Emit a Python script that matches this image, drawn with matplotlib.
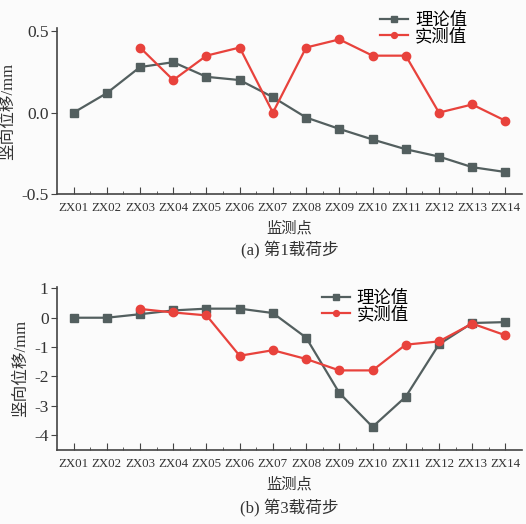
import matplotlib.pyplot as plt
import numpy as np

plt.rcParams['font.family'] = ['Liberation Serif', 'Noto Sans CJK SC']
plt.rcParams['axes.unicode_minus'] = False

points = ['ZX%02d' % i for i in range(1, 15)]

# 第1载荷步
theory_1 = [0.0, 0.12, 0.28, 0.31, 0.22, 0.20, 0.095, -0.03, -0.10, -0.165,
            -0.225, -0.27, -0.335, -0.365]
measured_1 = [None, None, 0.40, 0.20, 0.35, 0.40, 0.0, 0.40, 0.45, 0.35,
              0.35, 0.0, 0.05, -0.05]

# 第3载荷步
theory_3 = [0.0, 0.0, 0.12, 0.25, 0.31, 0.31, 0.16, -0.68, -2.57, -3.73,
            -2.70, -0.91, -0.18, -0.15]
measured_3 = [None, None, 0.30, 0.18, 0.08, -1.30, -1.11, -1.41, -1.80, -1.80,
              -0.92, -0.81, -0.20, -0.60]

grey = '#535f5f'
red = '#e8423c'
bg = '#fbfbfb'

fig = plt.figure(figsize=(5.26, 5.24), dpi=100, facecolor=bg)
ax1 = fig.add_axes([57/526, 1 - 194/524, 465/526, 166/524], facecolor=bg)
ax2 = fig.add_axes([57/526, 1 - 450/524, 465/526, 163/524], facecolor=bg)

x = np.arange(1, 15)


def draw(ax, theory, measured):
    m = np.array([np.nan if v is None else v for v in measured], float)
    ax.plot(x, theory, color=grey, marker='s', markersize=5.5, lw=1.6,
            label='理论值')
    ax.plot(x, m, color=red, marker='o', markersize=6, lw=1.6, label='实测值')
    ax.set_xlim(0.5, 14.5)
    ax.set_xticks(x)
    ax.set_xticks(np.arange(1.5, 14.5, 1), minor=True)
    ax.set_xticklabels(points, fontsize=9.3)
    ax.tick_params(axis='x', which='major', direction='in', length=5,
                   color='#444444', pad=6)
    ax.tick_params(axis='x', which='minor', direction='in', length=2.5,
                   color='#444444')
    ax.tick_params(axis='y', direction='out', length=4, color='#444444',
                   labelsize=12.5, pad=2)
    for s in ['top', 'right']:
        ax.spines[s].set_visible(False)
    for s in ['left', 'bottom']:
        ax.spines[s].set_color('#444444')
        ax.spines[s].set_linewidth(1.2)
    ax.set_ylabel('竖向位移/mm', fontsize=12, labelpad=4, color='#333333')
    ax.set_xlabel('监测点', fontsize=11, labelpad=5, color='#333333')
    for lbl in ax.get_xticklabels() + ax.get_yticklabels():
        lbl.set_color('#333333')


draw(ax1, theory_1, measured_1)
ax1.set_ylim(-0.5, 0.52)
ax1.set_yticks([-0.5, 0.0, 0.5])
ax1.set_yticklabels(['-0.5', '0.0', '0.5'])
ax1.legend(loc='upper left', bbox_to_anchor=(0.68, 1.135), frameon=False,
           fontsize=12.5, handlelength=1.6, handletextpad=0.4, labelspacing=0.0,
           markerscale=0.7, borderaxespad=0)
ax1.text(0.5, -0.34, '(a) 第1载荷步', transform=ax1.transAxes, ha='center',
         va='center', fontsize=12, color='#333333')

draw(ax2, theory_3, measured_3)
ax2.set_ylim(-4.52, 1.05)
ax2.set_yticks([-4, -3, -2, -1, 0, 1])
ax2.legend(loc='upper left', bbox_to_anchor=(0.555, 1.02), frameon=False,
           fontsize=12.5, handlelength=1.6, handletextpad=0.4, labelspacing=0.0,
           markerscale=0.7, borderaxespad=0)
ax2.text(0.5, -0.36, '(b) 第3载荷步', transform=ax2.transAxes, ha='center',
         va='center', fontsize=12, color='#333333')

fig.savefig('out.png', dpi=100, facecolor=bg)
